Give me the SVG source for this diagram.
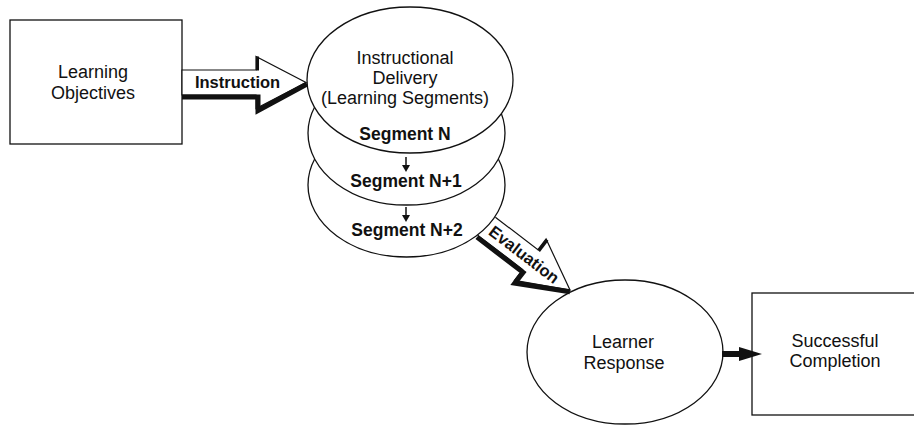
<svg xmlns="http://www.w3.org/2000/svg" width="914" height="427" viewBox="0 0 914 427">
<style>
.shape{fill:#fff;stroke:#111;stroke-width:1.3}
.t{font-family:"Liberation Sans",Arial,sans-serif;font-size:18px;fill:#111;text-anchor:middle}
.b{font-family:"Liberation Sans",Arial,sans-serif;font-size:17.5px;font-weight:bold;fill:#111;text-anchor:middle}
.al{font-family:"Liberation Sans",Arial,sans-serif;font-size:16.5px;font-weight:bold;fill:#111;text-anchor:middle}
.outl{fill:#fff;stroke:#111;stroke-width:1.2;stroke-linejoin:miter}
.shad{fill:none;stroke:#111;stroke-width:5;stroke-linejoin:miter}
.notch{stroke:#111;stroke-width:3}
.blk{fill:#111;stroke:none}
.thin{stroke:#111;stroke-width:1.5}
</style>
<rect width="914" height="427" fill="#fff"/>
<g id="learning-objectives">
<rect class="shape" x="10" y="20" width="172" height="124"/>
<text class="t" x="93" y="78">Learning</text>
<text class="t" x="93" y="99">Objectives</text>
</g>
<g id="segment-n2">
<ellipse class="shape" cx="406.5" cy="185" rx="98.5" ry="72"/>
<text class="b" x="407" y="236">Segment N+2</text>
</g>
<g id="segment-n1">
<ellipse class="shape" cx="406.5" cy="133" rx="98.5" ry="72"/>
<text class="b" x="406" y="187">Segment N+1</text>
</g>
<g id="instructional-delivery">
<ellipse class="shape" cx="410" cy="80" rx="103" ry="73"/>
<text class="t" x="405" y="64">Instructional</text>
<text class="t" x="405" y="84">Delivery</text>
<text class="t" x="405" y="104">(Learning Segments)</text>
<text class="b" x="405" y="140">Segment N</text>
</g>
<g id="learner-response">
<ellipse class="shape" cx="625" cy="352" rx="98" ry="72"/>
<text class="t" x="623" y="348">Learner</text>
<text class="t" x="624" y="369">Response</text>
</g>
<g id="successful-completion">
<rect class="shape" x="752" y="293" width="170" height="122"/>
<text class="t" x="835" y="347">Successful</text>
<text class="t" x="835" y="367">Completion</text>
</g>
<g id="connectors">
<g id="instruction-arrow" transform="translate(306,82.5)">
<polygon class="outl" points="-124,-12.5 -50,-12.5 -50,-26 0,0 -50,26 -50,12.5 -124,12.5"/>
<polyline class="shad" points="-124,14.5 -48,14.5 -48,28 1,1.5"/>
<line class="notch" x1="-48.5" y1="-26" x2="-48.5" y2="-12"/>
<text class="al" x="-68.5" y="5.5">Instruction</text>
</g>
<g id="evaluation-arrow" transform="translate(570,290) rotate(37.4)">
<polyline class="outl" style="fill:none" points="-103.5,-12.5 -50,-12.5 -50,-26 0,0 -50,26 -50,12.5 -106.7,12.5"/>
<polyline class="shad" points="-106,14.5 -48,14.5 -48,28 1,1.5"/>
<line class="notch" x1="-48.5" y1="-26" x2="-48.5" y2="-12"/>
<text class="al" x="-58" y="5.5">Evaluation</text>
</g>
<g id="seg-arrow-1">
<line class="thin" x1="406" y1="157" x2="406" y2="166"/>
<polygon class="blk" points="402,165 410,165 406,172"/>
</g>
<g id="seg-arrow-2">
<line class="thin" x1="406" y1="207" x2="406" y2="216"/>
<polygon class="blk" points="402,215 410,215 406,222"/>
</g>
<g id="completion-arrow">
<line stroke="#111" stroke-width="6" x1="722" y1="354" x2="742" y2="354"/>
<polygon class="blk" points="739,347 762,354 739,361"/>
</g>
</g>
</svg>
